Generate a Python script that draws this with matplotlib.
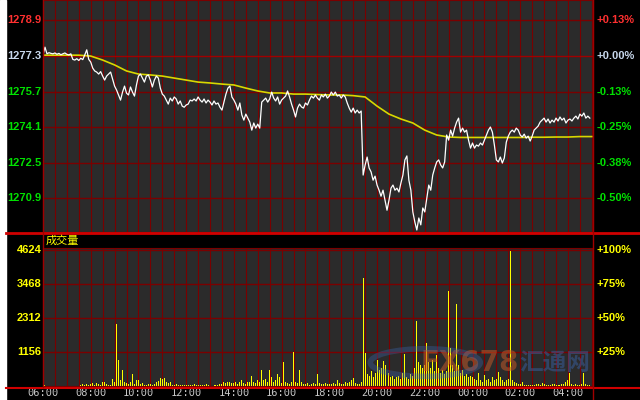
import numpy as np
import matplotlib
matplotlib.use("Agg")
import matplotlib.pyplot as plt
from matplotlib.lines import Line2D
from matplotlib.patches import Rectangle, Circle

# 5-minute samples from 06:00 to 04:55 next day
price = [
    # 06:00 - 07:55
    1277.35, 1277.70, 1277.40, 1277.45, 1277.42, 1277.40, 1277.44, 1277.38, 1277.42, 1277.36, 1277.40, 1277.44,
    1277.38, 1277.35, 1277.40, 1277.15, 1277.12, 1277.18, 1277.10, 1277.20, 1277.14, 1277.35, 1277.58, 1277.15,
    # 08:00 - 09:55
    1277.03, 1276.76, 1276.63, 1276.58, 1276.49, 1276.60, 1276.40, 1276.22, 1276.40, 1276.49, 1276.58, 1276.26,
    1275.95, 1275.77, 1275.55, 1275.32, 1275.68, 1275.95, 1275.63, 1275.55, 1275.91, 1275.68, 1275.50, 1276.00,
    # 10:00 - 11:55
    1276.40, 1276.49, 1276.31, 1276.13, 1276.40, 1276.45, 1276.22, 1275.91, 1276.22, 1276.40, 1276.31, 1275.86,
    1275.59, 1275.50, 1275.32, 1275.14, 1275.41, 1275.28, 1275.46, 1275.37, 1275.14, 1275.28, 1275.05, 1275.00,
    # 12:00 - 13:55
    1275.10, 1275.14, 1275.32, 1275.28, 1275.37, 1275.28, 1275.46, 1275.32, 1275.23, 1275.37, 1275.19, 1275.32,
    1275.23, 1275.10, 1275.28, 1275.14, 1275.19, 1275.00, 1274.87, 1275.23, 1275.59, 1275.86, 1275.95, 1275.46,
    # 14:00 - 15:55
    1275.32, 1275.14, 1274.87, 1275.19, 1274.65, 1274.42, 1274.69, 1274.51, 1274.33, 1273.97, 1274.29, 1274.06,
    1274.24, 1274.06, 1275.23, 1275.32, 1275.41, 1275.23, 1275.37, 1275.68, 1275.41, 1275.28, 1275.46, 1275.14,
    # 16:00 - 17:55
    1275.32, 1275.41, 1275.50, 1275.73, 1275.46, 1275.14, 1274.87, 1274.56, 1274.96, 1275.14, 1275.01, 1274.96,
    1275.19, 1275.10, 1275.32, 1275.50, 1275.41, 1275.55, 1275.41, 1275.32, 1275.55, 1275.46, 1275.59, 1275.41,
    # 18:00 - 19:55
    1275.50, 1275.68, 1275.55, 1275.68, 1275.50, 1275.55, 1275.41, 1275.55, 1275.46, 1275.19, 1274.96, 1274.78,
    1274.96, 1274.74, 1274.87, 1274.74, 1274.83, 1271.95, 1272.40, 1272.76, 1272.27, 1272.09, 1271.72, 1271.90,
    # 20:00 - 21:55
    1271.50, 1271.27, 1271.00, 1271.27, 1270.82, 1270.37, 1270.82, 1271.36, 1271.50, 1271.27, 1271.36, 1271.19,
    1271.59, 1271.95, 1272.63, 1272.81, 1271.72, 1271.27, 1270.29, 1269.84, 1269.48, 1270.02, 1269.71, 1270.47,
    # 22:00 - 23:55
    1270.29, 1270.91, 1271.50, 1271.27, 1271.95, 1272.27, 1272.54, 1272.63, 1272.40, 1272.27, 1272.54, 1273.75,
    1273.52, 1273.97, 1273.70, 1274.06, 1274.33, 1274.51, 1273.88, 1274.06, 1273.88, 1273.97, 1273.52, 1273.16,
    # 00:00 - 01:55
    1273.39, 1273.16, 1273.30, 1273.25, 1273.39, 1273.30, 1273.52, 1273.75, 1273.97, 1274.11, 1273.88, 1273.30,
    1272.63, 1272.54, 1272.76, 1272.49, 1272.72, 1273.43, 1273.70, 1273.88, 1273.97, 1273.88, 1274.06, 1273.97,
    # 02:00 - 03:55
    1273.75, 1273.66, 1273.79, 1273.61, 1273.70, 1273.48, 1273.70, 1273.97, 1274.06, 1274.15, 1274.33, 1274.42,
    1274.51, 1274.33, 1274.47, 1274.29, 1274.42, 1274.33, 1274.51, 1274.38, 1274.56, 1274.42, 1274.51, 1274.29,
    # 04:00 - 04:55
    1274.42, 1274.47, 1274.38, 1274.51, 1274.60, 1274.47, 1274.69, 1274.60, 1274.74, 1274.51, 1274.60, 1274.51,
]

volume = [
    70, 40, 10, 0, 0, 0, 0, 0, 0, 0, 0, 0, 0, 0, 0, 0, 0, 0, 0, 40, 60, 30, 80, 50,
    60, 100, 40, 90, 60, 30, 120, 150, 80, 50, 40, 250, 150, 2100, 880, 200, 540, 120, 90, 60, 120, 400, 80, 200,
    220, 60, 100, 40, 30, 80, 60, 40, 70, 120, 180, 260, 230, 280, 150, 100, 130, 40, 30, 60, 20, 50, 30, 40,
    30, 50, 20, 40, 60, 30, 20, 50, 40, 20, 60, 30, 10, 0, 30, 20, 40, 80, 60, 120, 100, 150, 120, 100,
    100, 150, 80, 120, 200, 100, 80, 150, 120, 350, 150, 100, 200, 150, 540, 200, 250, 150, 540, 300, 120, 200, 400, 300,
    100, 820, 150, 100, 80, 120, 1150, 150, 100, 540, 120, 80, 60, 90, 50, 80, 100, 60, 400, 100, 80, 60, 100, 80,
    80, 60, 100, 70, 200, 90, 60, 80, 120, 100, 150, 200, 280, 100, 80, 60, 120, 3670, 1120, 400, 350, 500, 300, 450,
    900, 540, 600, 850, 700, 900, 440, 300, 350, 250, 300, 350, 250, 450, 1090, 300, 250, 400, 350, 600, 2200, 800, 700, 600,
    700, 1460, 800, 600, 900, 500, 1050, 600, 450, 550, 400, 500, 3230, 1300, 700, 500, 2790, 700, 450, 550, 350, 400, 300, 350,
    300, 250, 200, 440, 200, 150, 380, 200, 250, 150, 300, 200, 250, 480, 300, 200, 150, 200, 250, 4590, 200, 150, 100, 80,
    60, 150, 40, 30, 20, 50, 30, 20, 60, 80, 40, 100, 60, 30, 20, 40, 80, 60, 30, 50, 20, 60, 80, 120,
    200, 440, 60, 40, 80, 50, 30, 60, 440, 60, 40, 50,
]

# average price line, every 30 minutes
avg_price = [
    1277.34, 1277.34, 1277.34, 1277.34, 1277.30, 1277.12, 1276.90, 1276.63, 1276.49, 1276.45, 1276.40, 1276.31,
    1276.22, 1276.13, 1276.09, 1276.04, 1276.00, 1275.86, 1275.73, 1275.64, 1275.64, 1275.59, 1275.59, 1275.57,
    1275.55, 1275.55, 1275.52, 1275.46, 1275.05, 1274.69, 1274.47, 1274.29, 1273.97, 1273.75, 1273.66, 1273.64,
    1273.64, 1273.64, 1273.64, 1273.64, 1273.64, 1273.65, 1273.65, 1273.66, 1273.66, 1273.68, 1273.68,
]

price_ticks = [1278.9, 1277.3, 1275.7, 1274.1, 1272.5, 1270.9]
pct_labels = ["+0.13%", "+0.00%", "-0.13%", "-0.25%", "-0.38%", "-0.50%"]
vol_ticks = [1156, 2312, 3468, 4624]
vol_pct = ["+25%", "+50%", "+75%", "+100%"]
time_labels = ["06:00", "08:00", "10:00", "12:00", "14:00", "16:00",
               "18:00", "20:00", "22:00", "00:00", "02:00", "04:00"]

t = np.arange(len(price)) * 5
t_avg = np.arange(len(avg_price)) * 30

BG = "#2b2b2b"
GRID = "#7a0000"
RED = "#d00000"
GREEN = "#00e000"
YEL = "#ffff00"

fig = plt.figure(figsize=(6.4, 4.0), dpi=100, facecolor="black")

ax = fig.add_axes([43 / 640, 1 - 232 / 400, 550 / 640, 232 / 400])
av = fig.add_axes([43 / 640, 14 / 400, 550 / 640, 138 / 400])

xmax = 23.05 * 60
for a in (ax, av):
    a.set_facecolor(BG)
    a.set_xlim(0, xmax)
    for s in a.spines.values():
        s.set_color(GRID)
    a.set_xticks([])
    a.set_yticks([])
    for m in range(30, int(xmax), 30):
        a.axvline(m, color=GRID, lw=0.8, zorder=1)

# price panel
ax.set_ylim(1269.39, 1279.82)
for p in price_ticks:
    c = "#a00000" if p == 1277.3 else GRID
    ax.axhline(p, color=c, lw=1.0, zorder=1)
ax.plot(t_avg, avg_price, color="#d8d800", lw=1.2, zorder=3)
ax.plot(t, price, color="white", lw=0.9, zorder=4)

lab_cols = ["#ff3030", "#c8d8ec", GREEN, GREEN, GREEN, GREEN]
for p, lab, c in zip(price_ticks, pct_labels, lab_cols):
    y = (p - 1269.39) / (1279.82 - 1269.39)
    ax.text(-0.003, y, f"{p:.1f}", transform=ax.transAxes, ha="right", va="center",
            color=c, fontsize=8, fontweight="bold", family="Liberation Sans")
    ax.text(1.006, y, lab, transform=ax.transAxes, ha="left", va="center",
            color=c, fontsize=8, fontweight="bold", family="Liberation Sans")

# volume panel
av.set_ylim(0, 4692)
for v in vol_ticks:
    av.axhline(v, color=GRID, lw=1.0, zorder=1)
av.bar(t, volume, width=2.5, color=YEL, linewidth=0, antialiased=False, zorder=3)
for v, lab in zip(vol_ticks, vol_pct):
    y = v / 4692
    av.text(-0.003, y, str(v), transform=av.transAxes, ha="right", va="center",
            color=YEL, fontsize=8, fontweight="bold", family="Liberation Sans")
    av.text(1.006, y, lab, transform=av.transAxes, ha="left", va="center",
            color=YEL, fontsize=8, fontweight="bold", family="Liberation Sans", zorder=6)

for i, lab in enumerate(time_labels):
    av.text(i * 120 / xmax, -0.05, lab, transform=av.transAxes, ha="center", va="center",
            color="#c8c8c8", fontsize=7.5, family="DejaVu Sans Mono")

# watermark
av.text(0.775, 0.17, "FX678", transform=av.transAxes, ha="center", va="center",
        color="#c05828", alpha=0.55, fontsize=20, fontweight="bold", zorder=5)
av.text(0.93, 0.17, "汇通网", transform=av.transAxes, ha="center", va="center",
        color="#3a66b0", alpha=0.45, fontsize=17, fontweight="bold",
        family=["Noto Sans CJK SC", "DejaVu Sans"], zorder=5)
av.add_patch(Circle((0.695, 0.17), 0.1, transform=av.transAxes,
                    fill=False, ec="#3a66b0", lw=4, alpha=0.35, zorder=5))

# header and frame lines
fig.text(46 / 640, 1 - 241 / 400, "成交量", color=YEL, fontsize=8, va="center",
         family=["Noto Sans CJK SC", "DejaVu Sans"])
fig.add_artist(Line2D([6 / 640, 1], [1 - 232.5 / 400] * 2, color=RED, lw=2))
fig.add_artist(Line2D([6 / 640, 1], [1 - 387.5 / 400] * 2, color=RED, lw=1.5))
fig.add_artist(Line2D([593 / 640] * 2, [0, 1], color="#a00000", lw=1))
fig.add_artist(Line2D([43 / 640] * 2, [1 - 387 / 400, 1], color="#a00000", lw=1))
fig.add_artist(Rectangle((0, 0), 6 / 640, 1, transform=fig.transFigure, color="white"))

fig.savefig("out.png", dpi=100, facecolor="black")
